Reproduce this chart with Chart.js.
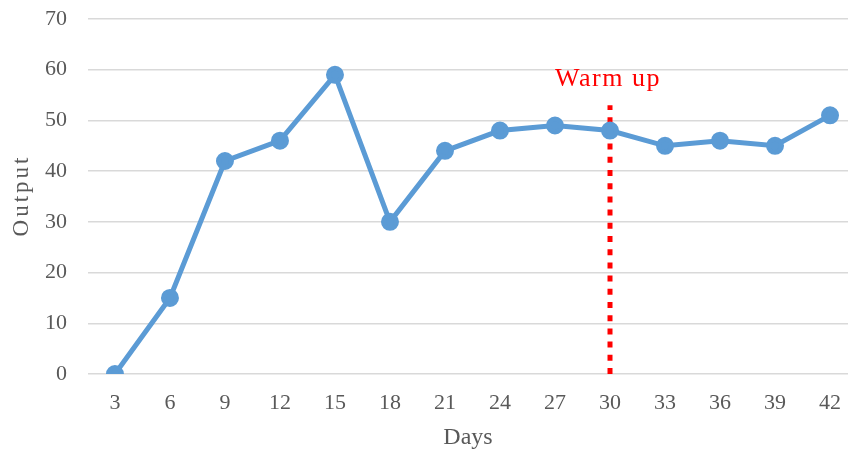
<!DOCTYPE html>
<html><head><meta charset="utf-8">
<script src="https://cdn.jsdelivr.net/npm/chart.js@4"></script>
<style>html,body{margin:0;padding:0;background:#fff;}#wrap{width:853px;height:454px;}</style>
</head><body><div id="wrap"><canvas id="c" width="853" height="454"></canvas></div>
<script>
const days = [3, 6, 9, 12, 15, 18, 21, 24, 27, 30, 33, 36, 39, 42];
const output = [0, 15, 42, 46, 59, 30, 44, 48, 49, 48, 45, 46, 45, 51];
const yTicks = [0, 10, 20, 30, 40, 50, 60, 70];
const warmUpDay = 30;
const warmUpTop = 53;
const warmUpLabel = 'Warm up';
const yTitle = 'Output';
const xTitle = 'Days';

const serif = '"Liberation Serif", "Times New Roman", serif';

const extraText = {
  id: 'extraText',
  afterDatasetsDraw(chart) {
    const {ctx, scales, chartArea} = chart;
    const x = scales.x.getPixelForValue(warmUpDay);
    const y = scales.y.getPixelForValue(warmUpTop) - 19;
    ctx.save();
    ctx.fillStyle = '#ff0000';
    ctx.font = '26px ' + serif;
    try { ctx.letterSpacing = '1.5px'; } catch (e) {}
    ctx.textAlign = 'center';
    ctx.textBaseline = 'alphabetic';
    ctx.fillText(warmUpLabel, x - 2, y);
    ctx.restore();

    ctx.save();
    ctx.fillStyle = '#595959';
    ctx.font = '23px ' + serif;
    try { ctx.letterSpacing = '3px'; } catch (e) {}
    ctx.textAlign = 'center';
    ctx.textBaseline = 'middle';
    ctx.translate(22, (chartArea.top + chartArea.bottom) / 2);
    ctx.rotate(-Math.PI / 2);
    ctx.fillText(yTitle, 1, 0);
    ctx.restore();
  }
};

new Chart(document.getElementById('c'), {
  type: 'line',
  data: {
    datasets: [
      {
        data: days.map((d, i) => ({x: d, y: output[i]})),
        borderColor: '#5B9BD5',
        backgroundColor: '#5B9BD5',
        borderWidth: 5,
        pointRadius: 6.5,
        pointHoverRadius: 6.5,
        tension: 0,
        order: 1
      },
      {
        data: [{x: warmUpDay, y: 0}, {x: warmUpDay, y: warmUpTop}],
        borderColor: '#ff0000',
        borderWidth: 5,
        borderDash: [6, 7.2],
        pointRadius: 0,
        order: 2
      }
    ]
  },
  options: {
    responsive: false,
    animation: false,
    layout: {autoPadding: false, padding: {top: 0, right: 5, left: 0, bottom: 2}},
    plugins: {legend: {display: false}, tooltip: {enabled: false}},
    scales: {
      x: {
        type: 'linear',
        min: 1.53,
        max: 42.98,
        afterBuildTicks: (s) => { s.ticks = days.map(v => ({value: v})); },
        afterFit: (s) => { s.height = 78; s.paddingLeft = 0; s.paddingRight = 0; },
        grid: {display: false, drawTicks: true, tickLength: 16},
        border: {display: false},
        ticks: {color: '#595959', font: {family: serif, size: 22}, padding: 0, maxRotation: 0, autoSkip: false},
        title: {display: true, text: xTitle, color: '#595959', font: {family: serif, size: 24}, padding: {top: 0, bottom: 0}}
      },
      y: {
        min: 0,
        max: 70,
        afterBuildTicks: (s) => { s.ticks = yTicks.map(v => ({value: v})); },
        afterFit: (s) => { s.width = 88; s.paddingTop = 19; s.paddingBottom = 0; },
        grid: {color: '#d9d9d9', lineWidth: 1.5, drawTicks: false},
        border: {display: false},
        ticks: {color: '#595959', font: {family: serif, size: 22}, padding: 21}
      }
    }
  },
  plugins: [extraText]
});
</script></body></html>
